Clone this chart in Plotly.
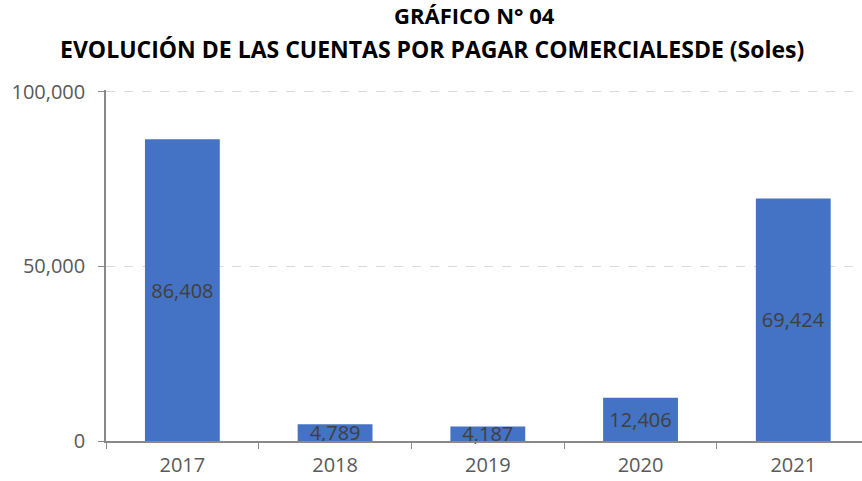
import plotly.graph_objects as go

# Data
years = ["2017", "2018", "2019", "2020", "2021"]
values = [86408, 4789, 4187, 12406, 69424]
y_ticks = [0, 50000, 100000]
y_tick_labels = ["0", "50,000", "100,000"]
title_lines = ["GRÁFICO N° 04",
               "EVOLUCIÓN DE LAS CUENTAS POR PAGAR COMERCIALESDE (Soles)"]

fig = go.Figure(go.Bar(
    x=years, y=values,
    marker=dict(color="#4472C4", line=dict(width=0)),
    text=[f"{v:,}" for v in values],
    textposition="inside", insidetextanchor="middle",
    constraintext="none",
    textfont=dict(family="Open Sans", size=20, color="#404040"),
    cliponaxis=False,
))

# title, two bold lines (placed by hand like the original)
for line, xpos, ypos, size in zip(title_lines, [0.487, 0.431], [1.213, 1.118], [22, 23]):
    fig.add_annotation(
        text=f"<b>{line}</b>", xref="paper", yref="paper",
        x=xpos, y=ypos, xanchor="center", yanchor="middle",
        showarrow=False, font=dict(family="Open Sans", size=size, color="black"),
    )

fig.update_layout(
    width=862, height=481,
    margin=dict(l=106, r=0, t=90, b=40),
    paper_bgcolor="white", plot_bgcolor="white",
    bargap=0.51,
    showlegend=False,
    font=dict(family="Open Sans", color="#595959"),
)

fig.update_xaxes(
    range=[-0.5, 4.45],
    showline=True, linecolor="#898989", linewidth=1.5,
    ticks="outside", tickson="boundaries", ticklen=6, tickcolor="#898989",
    tickfont=dict(size=20, color="#595959"), ticklabelstandoff=5,
    showgrid=False,
)
fig.update_yaxes(
    range=[0, 100500],
    tickvals=y_ticks, ticktext=y_tick_labels,
    showline=True, linecolor="#898989", linewidth=1.5,
    ticks="outside", ticklen=6, tickcolor="#898989",
    tickfont=dict(size=20, color="#595959"), ticklabelstandoff=9,
    showgrid=True, gridcolor="#D9D9D9", griddash="dash", gridwidth=1.2,
    zeroline=False,
)

fig.write_html("out.html", config={"displayModeBar": False},
               post_script="document.body.style.margin='0';")
